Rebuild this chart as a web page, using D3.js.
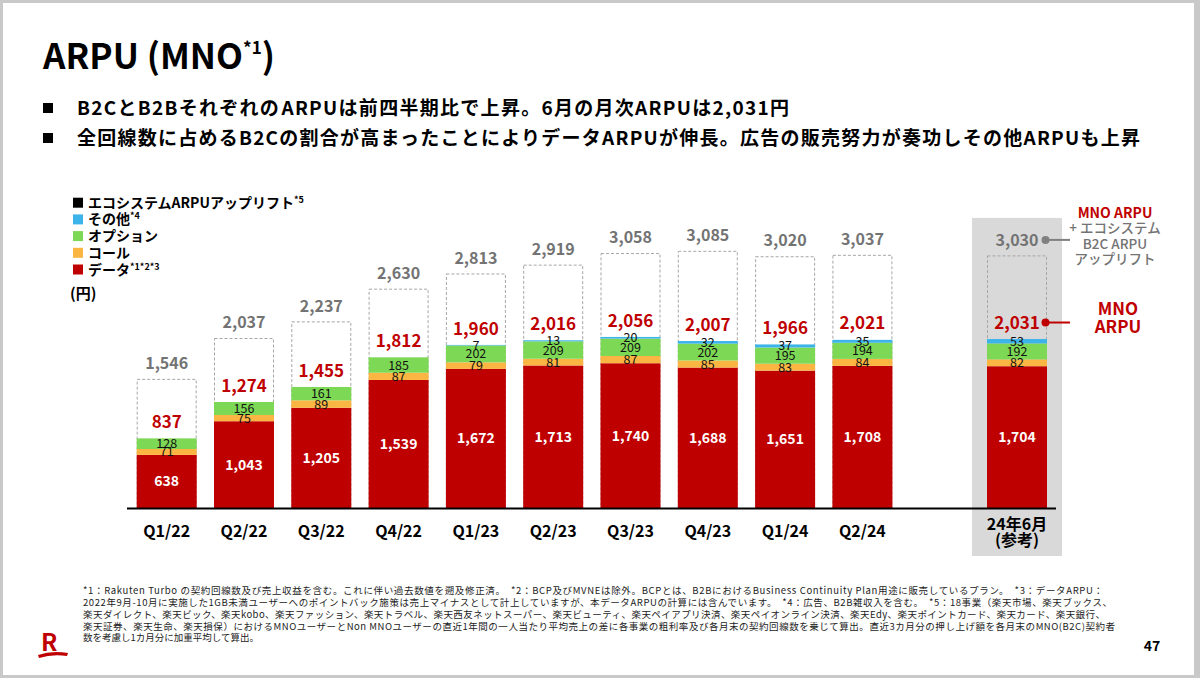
<!DOCTYPE html>
<html><head><meta charset="utf-8">
<script src="https://cdn.jsdelivr.net/npm/d3@7"></script>
<style>body{margin:0;background:#fff} svg{display:block} text{font-family:"Noto Sans CJK JP","Noto Sans",sans-serif}</style>
</head><body><svg id="c" width="1200" height="678"></svg>
<script>
const categories = ["Q1/22","Q2/22","Q3/22","Q4/22","Q1/23","Q2/23","Q3/23","Q4/23","Q1/24","Q2/24","24年6月"];
const lastCategoryNote = "(参考)";
const dataArpu   = [638,1043,1205,1539,1672,1713,1740,1688,1651,1708,1704];
const callArpu   = [71,75,89,87,79,81,87,85,83,84,82];
const optionArpu = [128,156,161,185,202,209,209,202,195,194,192];
const otherArpu  = [0,0,0,0,7,13,20,32,37,35,53];
const mnoArpu    = [837,1274,1455,1812,1960,2016,2056,2007,1966,2021,2031];
const totalArpu  = [1546,2037,2237,2630,2813,2919,3058,3085,3020,3037,3030];
const legendNames = ["エコシステムARPUアップリフト","その他","オプション","コール","データ"];
const legendSups  = ["*5","*4","","","*1*2*3"];
const title = "ARPU (MNO";
const titleSup = "*1";
const bullets = ["B2CとB2Bそれぞれの​ARPUは前四半期比で上昇。6月の月次ARPUは2,031円",
  "全回線数に占めるB2Cの割合が高まったことによりデータARPUが伸長。広告の販売努力が奏功しその他ARPUも上昇"];
const footnotes = [
  "*1：Rakuten Turbo の契約回線数及び売上収益を含む。これに伴い過去数値を遡及修正済。　*2：BCP及びMVNEは除外。BCPとは、B2BにおけるBusiness Continuity Plan用途に販売しているプラン。　*3：データARPU：",
  "2022年9月-10月に実施した1GB未満ユーザーへのポイントバック施策は売上マイナスとして計上していますが、本データARPUの計算には含んでいます。　*4：広告、B2B雑収入を含む。　*5：18事業（楽天市場、楽天ブックス、",
  "楽天ダイレクト、楽天ビック、楽天kobo、楽天ファッション、楽天トラベル、楽天西友ネットスーパー、楽天ビューティ、楽天ペイアプリ決済、楽天ペイオンライン決済、楽天Edy、楽天ポイントカード、楽天カード、楽天銀行、",
  "楽天証券、楽天生命、楽天損保）におけるMNOユーザーとNon MNOユーザーの直近1年間の一人当たり平均売上の差に各事業の粗利率及び各月末の契約回線数を乗じて算出。直近3カ月分の押し上げ額を各月末のMNO(B2C)契約者",
  "数を考慮し1カ月分に加重平均して算出。"];
const annoTop = ["MNO ARPU","+ エコシステム","B2C ARPU","アップリフト"];
const annoMid = ["MNO","ARPU"];
const unitLabel = "(円)";
const pageNo = "47";

const RED="#bf0000", GRAY="#737373";
const colors = {data:RED, call:"#fbb543", option:"#7dd855", other:"#3db4e9"};
const legendColors = ["#000", colors.other, colors.option, colors.call, colors.data];

const svg = d3.select("#c");
svg.append("rect").attr("width",1200).attr("height",678).attr("fill","#c9c9c9");
svg.append("rect").attr("x",3).attr("y",3).attr("width",1191).attr("height",672).attr("fill","#fff");

// title
const t = svg.append("text").attr("x",43).attr("y",69).attr("font-size",35).attr("font-weight",700).attr("fill","#000");
t.append("tspan").text(title);
t.append("tspan").attr("font-size",17).attr("dy",-15).text(titleSup);
t.append("tspan").attr("dy",15).text(")");

// bullets
const bulletCenters=[108,138], bulletLens=[712,1063];
bullets.forEach((b,i)=>{
  svg.append("rect").attr("x",43).attr("y",bulletCenters[i]-5).attr("width",10).attr("height",10).attr("fill","#000");
  svg.append("text").attr("x",77).attr("y",bulletCenters[i]).attr("dy","0.36em")
    .attr("font-size",19).attr("font-weight",700).attr("textLength",bulletLens[i]).attr("lengthAdjust","spacing").text(b);
});

// legend
legendNames.forEach((n,i)=>{
  const cy = 202.7 + i*16.7;
  svg.append("rect").attr("x",73).attr("y",cy-5).attr("width",10).attr("height",10).attr("fill",legendColors[i]);
  const tx = svg.append("text").attr("x",88).attr("y",cy).attr("dy","0.36em").attr("font-size",14).attr("font-weight",700);
  tx.append("tspan").text(n);
  if(legendSups[i]) tx.append("tspan").attr("font-size",9).attr("dy",-5).text(legendSups[i]);
});
svg.append("text").attr("x",70).attr("y",294).attr("dy","0.36em").attr("font-size",15).attr("font-weight",700).text(unitLabel);

// scales
const slots = categories.slice(0,-1).concat([" ", categories[categories.length-1]]);
const x = d3.scaleBand().domain(slots).range([136.7,1047]).paddingInner(0.224).paddingOuter(0);
const y = d3.scaleLinear().domain([0,3300]).range([508, 508-3300*0.0832]);
const bw = x.bandwidth();
const lastCat = categories[categories.length-1];
const li = categories.length-1;

// reference background
svg.append("rect").attr("x",x(lastCat)-15).attr("y",y(totalArpu[li])-38)
  .attr("width",bw+30).attr("height",556-(y(totalArpu[li])-38)).attr("fill","#d9d9d9");

const rows = categories.map((c,i)=>({cat:c,i,data:dataArpu[i],call:callArpu[i],option:optionArpu[i],other:otherArpu[i]}));

// dashed uplift boxes
svg.append("g").selectAll("rect").data(rows).join("rect")
  .attr("x",d=>x(d.cat)+0.5).attr("width",bw-1)
  .attr("y",d=>y(totalArpu[d.i])).attr("height",d=>y(0)-y(totalArpu[d.i]))
  .attr("fill",d=>d.cat===lastCat?"none":"#fff").attr("stroke","#a6a6a6").attr("stroke-width",1).attr("stroke-dasharray","3,2");

const keys=["data","call","option","other"];
const stack = d3.stack().keys(keys)(rows);
const gBars = svg.append("g");
stack.forEach(s=>{
  gBars.selectAll(null).data(s).join("rect")
    .attr("x",d=>x(d.data.cat)).attr("width",bw)
    .attr("y",d=>y(d[1])).attr("height",d=>Math.max(0,y(d[0])-y(d[1])))
    .attr("fill",colors[s.key]);
});
// segment labels
stack.forEach(s=>{
  gBars.selectAll(null).data(s.filter(d=>d.data[s.key]>0)).join("text")
    .attr("x",d=>x(d.data.cat)+bw/2).attr("y",d=>(y(d[0])+y(d[1]))/2).attr("dy","0.36em")
    .attr("text-anchor","middle")
    .attr("font-size",s.key==="data"?14:12.5)
    .attr("font-weight",s.key==="data"?700:400)
    .attr("fill",s.key==="data"?"#fff":"#111")
    .text(d=>d3.format(",")(d.data[s.key]));
});
// MNO ARPU labels
svg.append("g").selectAll("text").data(rows).join("text")
  .attr("x",d=>x(d.cat)+bw/2).attr("y",d=>y(mnoArpu[d.i])-16.5).attr("dy","0.36em")
  .attr("text-anchor","middle").attr("font-size",17).attr("font-weight",700).attr("fill",RED)
  .text(d=>d3.format(",")(mnoArpu[d.i]));
// total labels
svg.append("g").selectAll("text").data(rows).join("text")
  .attr("x",d=>x(d.cat)+bw/2).attr("y",d=>y(totalArpu[d.i])-16).attr("dy","0.36em")
  .attr("text-anchor","middle").attr("font-size",16).attr("font-weight",700).attr("fill",GRAY)
  .text(d=>d3.format(",")(totalArpu[d.i]));

// axis line
svg.append("line").attr("x1",127).attr("x2",1056).attr("y1",508.5).attr("y2",508.5).attr("stroke","#000").attr("stroke-width",2);
// x labels
svg.append("g").selectAll("text").data(categories.slice(0,-1)).join("text")
  .attr("x",d=>x(d)+bw/2).attr("y",531).attr("dy","0.36em").attr("text-anchor","middle")
  .attr("font-size",16).attr("font-weight",700).text(d=>d);
svg.append("text").attr("x",x(lastCat)+bw/2).attr("y",524).attr("dy","0.36em").attr("text-anchor","middle")
  .attr("font-size",16).attr("font-weight",700).text(lastCat);
svg.append("text").attr("x",x(lastCat)+bw/2).attr("y",540).attr("dy","0.36em").attr("text-anchor","middle")
  .attr("font-size",16).attr("font-weight",700).text(lastCategoryNote);

// annotations for last bar
const dx = x(lastCat)+bw-1.5;
const yTot = y(totalArpu[li])-16, yMno = y(mnoArpu[li])-16.5;
svg.append("line").attr("x1",dx).attr("x2",1070).attr("y1",yTot).attr("y2",yTot).attr("stroke","#808080").attr("stroke-width",2);
svg.append("circle").attr("cx",dx).attr("cy",yTot).attr("r",4).attr("fill","#808080");
svg.append("line").attr("x1",dx).attr("x2",1070).attr("y1",yMno).attr("y2",yMno).attr("stroke",RED).attr("stroke-width",2);
svg.append("circle").attr("cx",dx).attr("cy",yMno).attr("r",4).attr("fill",RED);
annoTop.forEach((s,i)=>{
  svg.append("text").attr("x",1115).attr("y",213+i*15.5).attr("dy","0.36em").attr("text-anchor","middle")
    .attr("font-size",i===0?14:13.5).attr("font-weight",i===0?700:500).attr("fill",i===0?RED:GRAY).text(s);
});
annoMid.forEach((s,i)=>{
  svg.append("text").attr("x",1118).attr("y",309+i*17.5).attr("dy","0.36em").attr("text-anchor","middle")
    .attr("font-size",17).attr("font-weight",700).attr("fill",RED).text(s);
});

// footnotes
const fnLens=[1020,1029,1022,1032,null];
footnotes.forEach((f,i)=>{
  const tt = svg.append("text").attr("x",83).attr("y",591+i*11.75).attr("dy","0.36em")
    .attr("font-size",9.5).attr("fill","#222").text(f);
  if(fnLens[i]) tt.attr("textLength",fnLens[i]).attr("lengthAdjust","spacing");
});

// logo
svg.append("text").attr("x",41).attr("y",651).attr("font-size",24).attr("font-weight",700).attr("fill",RED).text("R");
svg.append("path").attr("d","M38,655 Q52,650 68,653 L67,656 Q52,654 39,658 Z").attr("fill",RED);
svg.append("text").attr("x",1152).attr("y",646).attr("dy","0.36em").attr("text-anchor","middle")
  .attr("font-size",14).attr("font-weight",700).text(pageNo);
</script></body></html>
